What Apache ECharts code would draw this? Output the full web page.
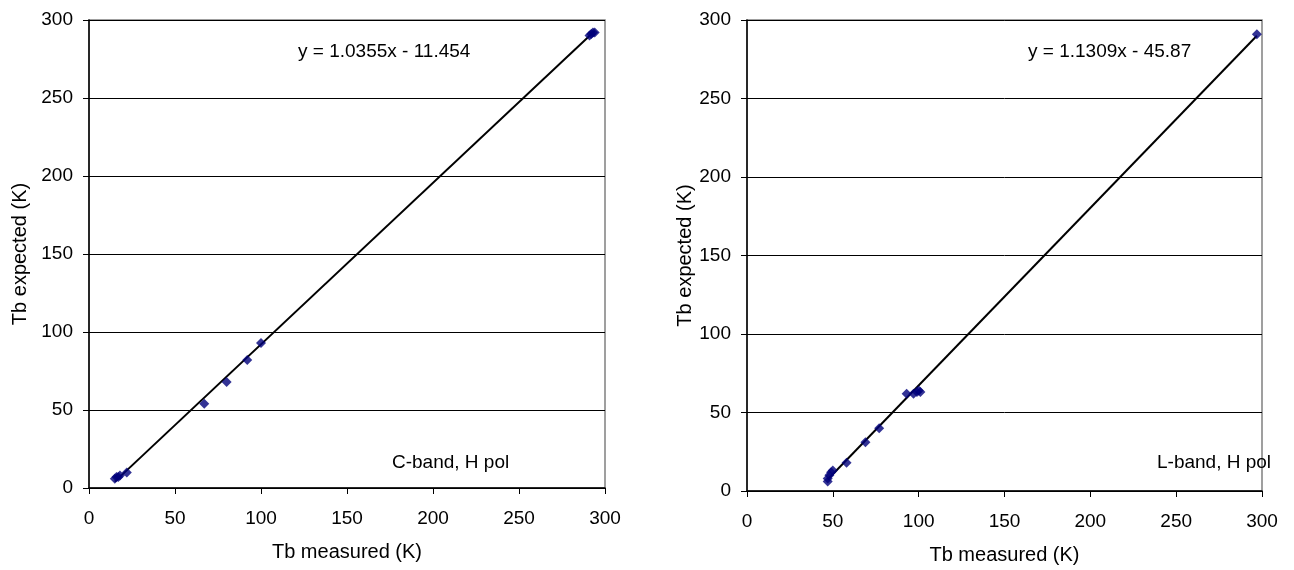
<!DOCTYPE html>
<html>
<head>
<meta charset="utf-8">
<script src="https://cdn.jsdelivr.net/npm/echarts@6/dist/echarts.min.js"></script>
<style>
  html, body { margin: 0; padding: 0; background: #fff; }
  #main { width: 1294px; height: 570px; }
</style>
</head>
<body>
<div id="main"></div>
<script>
// C-band, H pol
var cMeasured = [15, 16, 17, 18, 22, 67, 80, 92, 100, 291, 292, 293, 294];
var cExpected = [6, 7, 7, 8, 10, 54, 68, 82, 93, 290, 291, 292, 292];
var cSlope = 1.0355, cIntercept = -11.454;

// L-band, H pol
var lMeasured = [47, 47, 48, 49, 50, 58, 69, 77, 93, 97, 99, 100, 101, 297];
var lExpected = [6, 8, 10, 12, 13, 18, 31, 40, 62, 62, 63, 64, 63, 291];
var lSlope = 1.1309, lIntercept = -45.87;

var FONT = '"Liberation Sans", Arial, sans-serif';

function pairs(xs, ys) {
    return xs.map(function (x, i) { return [x, ys[i]]; });
}
// trendline drawn over the range of measured values, as Excel does
function trend(xs, a, b) {
    var lo = Math.min.apply(null, xs), hi = Math.max.apply(null, xs);
    return [[lo, a * lo + b], [hi, a * hi + b]];
}

function xAxis(idx) {
    return {
        gridIndex: idx, type: 'value', min: 0, max: 300, interval: 50,
        name: 'Tb measured (K)', nameLocation: 'middle', nameGap: 54,
        nameTextStyle: { fontFamily: FONT, fontSize: 20, color: '#000' },
        axisLine: { onZero: false, lineStyle: { color: '#000', width: 1.5 } },
        axisTick: { length: 6, lineStyle: { color: '#000' } },
        axisLabel: { fontFamily: FONT, fontSize: 19, color: '#000', margin: 21 },
        splitLine: { show: false }
    };
}
function yAxis(idx, gap) {
    return {
        gridIndex: idx, type: 'value', min: 0, max: 300, interval: 50,
        name: 'Tb expected (K)', nameLocation: 'middle', nameGap: gap,
        nameTextStyle: { fontFamily: FONT, fontSize: 20, color: '#000' },
        axisLine: { onZero: false, lineStyle: { color: '#000', width: 1.5 } },
        axisTick: { length: 6, lineStyle: { color: '#000' } },
        axisLabel: { fontFamily: FONT, fontSize: 19, color: '#000', margin: 16 },
        splitLine: { show: true, lineStyle: { color: '#000', width: 1 } }
    };
}

var myChart = echarts.init(document.getElementById('main'));
myChart.setOption({
    backgroundColor: '#fff',
    animation: false,
    grid: [
        { left: 89, top: 20, width: 516, height: 468, show: true, borderColor: '#808080', borderWidth: 1.5 },
        { left: 747, top: 20, width: 515, height: 473, show: true, borderColor: '#808080', borderWidth: 1.5 }
    ],
    xAxis: [xAxis(0), xAxis(1)],
    yAxis: [yAxis(0, 59), yAxis(1, 49)],
    series: [
        {
            type: 'line', xAxisIndex: 0, yAxisIndex: 0, data: trend(cMeasured, cSlope, cIntercept),
            showSymbol: false, lineStyle: { color: '#000', width: 2 }, z: 3
        },
        {
            type: 'scatter', xAxisIndex: 0, yAxisIndex: 0, data: pairs(cMeasured, cExpected),
            symbol: 'diamond', symbolSize: 10, itemStyle: { color: '#00007a' }, z: 4
        },
        {
            type: 'line', xAxisIndex: 1, yAxisIndex: 1, data: trend(lMeasured, lSlope, lIntercept),
            showSymbol: false, lineStyle: { color: '#000', width: 2 }, z: 3
        },
        {
            type: 'scatter', xAxisIndex: 1, yAxisIndex: 1, data: pairs(lMeasured, lExpected),
            symbol: 'diamond', symbolSize: 10, itemStyle: { color: '#00007a' }, z: 4
        }
    ],
    graphic: [
        { type: 'text', left: 298, top: 42, style: { text: 'y = 1.0355x - 11.454', font: '19px ' + FONT, fill: '#000' } },
        { type: 'text', left: 1028, top: 42, style: { text: 'y = 1.1309x - 45.87', font: '19px ' + FONT, fill: '#000' } },
        { type: 'text', left: 392, top: 453, style: { text: 'C-band, H pol', font: '19px ' + FONT, fill: '#000' } },
        { type: 'text', left: 1157, top: 453, style: { text: 'L-band, H pol', font: '19px ' + FONT, fill: '#000' } }
    ]
});
</script>
</body>
</html>
